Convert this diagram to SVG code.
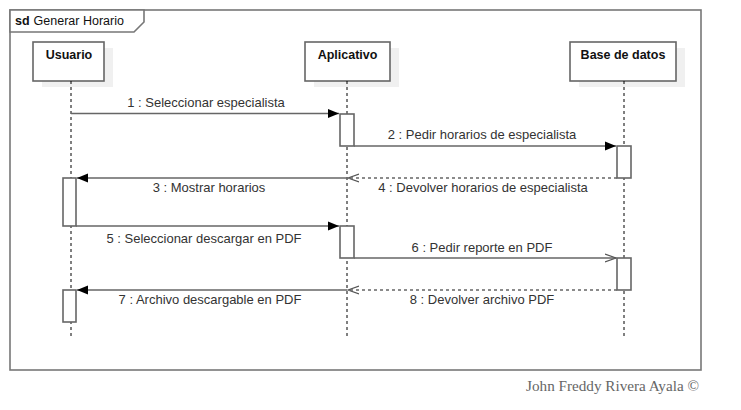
<svg xmlns="http://www.w3.org/2000/svg" width="741" height="410" viewBox="0 0 741 410">
<defs>
<marker id="filled" markerWidth="12" markerHeight="10" refX="11" refY="5" orient="auto" markerUnits="userSpaceOnUse">
<path d="M0,0.5 L11,5 L0,9.5 Z" fill="#000"/>
</marker>
<marker id="open" markerWidth="12" markerHeight="10" refX="11" refY="5" orient="auto" markerUnits="userSpaceOnUse">
<path d="M0,1 L11,5 L0,9" fill="none" stroke="#555" stroke-width="1.2"/>
</marker>
</defs>
<style>
.frame{fill:#fff;stroke:#777;stroke-width:1.6}
.shadow{fill:#f0f0f0;stroke:none}
.box{fill:#fff;stroke:#666;stroke-width:1.6}
.name{font-family:"Liberation Sans",Arial,sans-serif;font-size:12.5px;font-weight:bold;fill:#111;text-anchor:middle}
.life{stroke:#000;stroke-width:1;stroke-dasharray:3,3;fill:none}
.act{fill:#fff;stroke:#666;stroke-width:1.6}
.msg{stroke:#666;stroke-width:1.6;fill:none}
.ret{stroke:#666;stroke-width:1.6;fill:none;stroke-dasharray:3,3}
.lbl{font-family:"Liberation Sans",Arial,sans-serif;font-size:13px;fill:#333;text-anchor:middle}
</style>
<rect width="741" height="410" fill="#fff"/>
<g id="frame">
<rect class="frame" x="10" y="10" width="691" height="360"/>
<path class="frame" d="M10,10 L144,10 L144,22 L134,32 L10,32 Z"/>
<text x="15" y="25" font-family="Liberation Sans,Arial,sans-serif" font-size="12.5" fill="#111"><tspan font-weight="bold">sd</tspan><tspan dx="4">Generar Horario</tspan></text>
</g>
<g id="usuario">
<rect class="shadow" x="42" y="48" width="71" height="39"/>
<rect class="box" x="33" y="42" width="71" height="39"/>
<text class="name" x="69" y="59">Usuario</text>
<line class="life" x1="71" y1="81" x2="71" y2="337"/>
</g>
<g id="aplicativo">
<rect class="shadow" x="314" y="48" width="85" height="39"/>
<rect class="box" x="305" y="42" width="85" height="39"/>
<text class="name" x="347.5" y="59">Aplicativo</text>
<line class="life" x1="347" y1="81" x2="347" y2="337"/>
</g>
<g id="basededatos">
<rect class="shadow" x="579" y="48" width="106" height="39"/>
<rect class="box" x="570" y="42" width="106" height="39"/>
<text class="name" x="623" y="59">Base de datos</text>
<line class="life" x1="624" y1="81" x2="624" y2="337"/>
</g>
<g id="activations">
<rect class="act" x="340" y="114" width="14" height="32"/>
<rect class="act" x="617" y="146" width="14" height="32"/>
<rect class="act" x="63" y="178" width="13" height="48"/>
<rect class="act" x="340" y="226" width="14" height="32"/>
<rect class="act" x="617" y="258" width="14" height="32"/>
<rect class="act" x="63" y="290" width="13" height="32"/>
</g>
<g id="connectors">
<line class="msg" x1="71" y1="113.5" x2="339" y2="113.5" marker-end="url(#filled)"/>
<text class="lbl" x="206" y="107">1 : Seleccionar especialista</text>
<line class="msg" x1="354" y1="146" x2="616" y2="146" marker-end="url(#filled)"/>
<text class="lbl" x="482" y="139">2 : Pedir horarios de especialista</text>
<line class="ret" x1="617" y1="178" x2="348" y2="178" marker-end="url(#open)"/>
<text class="lbl" x="483" y="191.5">4 : Devolver horarios de especialista</text>
<line class="msg" x1="347" y1="178" x2="77" y2="178" marker-end="url(#filled)"/>
<text class="lbl" x="209" y="191.5">3 : Mostrar horarios</text>
<line class="msg" x1="76" y1="226" x2="339" y2="226" marker-end="url(#filled)"/>
<text class="lbl" x="204" y="242.5">5 : Seleccionar descargar en PDF</text>
<line class="msg" x1="354" y1="258" x2="616" y2="258" marker-end="url(#open)"/>
<text class="lbl" x="482" y="251.5">6 : Pedir reporte en PDF</text>
<line class="ret" x1="617" y1="290" x2="348" y2="290" marker-end="url(#open)"/>
<text class="lbl" x="482" y="303.5">8 : Devolver archivo PDF</text>
<line class="msg" x1="347" y1="290" x2="77" y2="290" marker-end="url(#filled)"/>
<text class="lbl" x="210" y="303.5">7 : Archivo descargable en PDF</text>
</g>
<text x="699" y="391" text-anchor="end" font-family="Liberation Serif,Times New Roman,serif" font-size="15.2" fill="#666">John Freddy Rivera Ayala ©</text>
</svg>
